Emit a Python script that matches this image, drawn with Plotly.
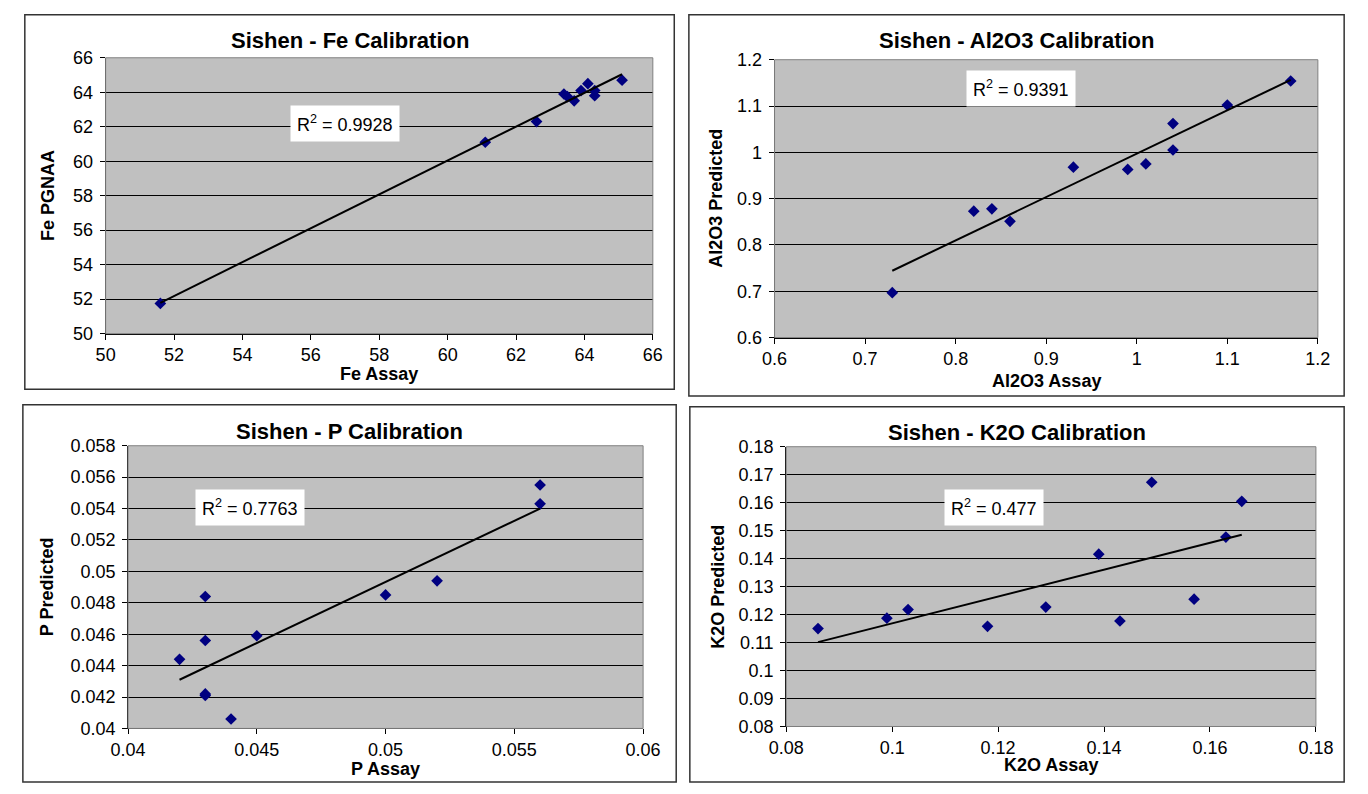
import numpy as np
import plotly.graph_objects as go

W, H = 1368, 794

# ---------------- data ----------------
fe_assay = [51.6, 61.1, 62.6, 63.4, 63.5, 63.7, 63.9, 64.1, 64.3, 64.3, 65.1]
fe_pred = [51.75, 61.1, 62.3, 63.9, 63.75, 63.5, 64.1, 64.5, 63.8, 64.1, 64.7]

al_assay = [0.73, 0.82, 0.84, 0.86, 0.93, 0.99, 1.01, 1.04, 1.04, 1.10, 1.17]
al_pred = [0.697, 0.873, 0.878, 0.851, 0.968, 0.963, 0.975, 1.062, 1.005, 1.102, 1.154]

p_assay = [0.042, 0.043, 0.043, 0.043, 0.043, 0.044, 0.045, 0.050, 0.052, 0.056, 0.056]
p_pred = [0.0444, 0.0484, 0.0456, 0.0421, 0.0422, 0.0406, 0.0459, 0.0485, 0.0494, 0.0555, 0.0543]

k_assay = [0.086, 0.099, 0.103, 0.118, 0.129, 0.139, 0.143, 0.149, 0.157, 0.163, 0.166]
k_pred = [0.115, 0.1187, 0.1218, 0.1158, 0.1227, 0.1416, 0.1177, 0.1673, 0.1255, 0.1477, 0.1605]

titles = ["Sishen - Fe Calibration", "Sishen - Al2O3 Calibration",
          "Sishen - P Calibration", "Sishen - K2O Calibration"]
x_titles = ["Fe Assay", "Al2O3 Assay", "P Assay", "K2O Assay"]
y_titles = ["Fe PGNAA", "Al2O3 Predicted", "P Predicted", "K2O Predicted"]
r2_labels = ["0.9928", "0.9391", "0.7763", "0.477"]
r2_pos = [(57.0, 62.2), (0.872, 1.137), (0.04475, 0.05409), (0.1192, 0.1582)]

x_ranges = [(50, 66, 2), (0.6, 1.2, 0.1), (0.04, 0.06, 0.005), (0.08, 0.18, 0.02)]
y_ranges = [(50, 66, 2), (0.6, 1.2, 0.1), (0.04, 0.058, 0.002), (0.08, 0.18, 0.01)]

datasets = [(fe_assay, fe_pred), (al_assay, al_pred), (p_assay, p_pred), (k_assay, k_pred)]

# ---------------- layout geometry (pixels) ----------------
plot_px = [  # x0, x1, y0(top), y1(bottom)
    (90, 652, 49, 332),
    (777, 1335, 51, 336),
    (113, 642, 447, 737),
    (789, 1333, 448, 735),
]
box_px = [
    (7, 674, 5, 389),
    (689, 1362, 5, 396),
    (5, 676, 405, 792),
    (690, 1362, 407, 792),
]
title_y = [31, 31, 432, 433]
xt_y = [373, 381, 779, 775]
yt_x = [30, 716, 30, 718]

FONT = "Arial, Liberation Sans, sans-serif"

def px_x(v):
    return v / W

def px_y(v):
    return 1 - v / H

fig = go.Figure()
layout = dict(
    width=W, height=H,
    margin=dict(l=0, r=0, t=0, b=0),
    paper_bgcolor="white",
    plot_bgcolor="#C0C0C0",
    showlegend=False,
    font=dict(family=FONT, color="black"),
)
annotations = []
shapes = []

for i in range(4):
    n = "" if i == 0 else str(i + 1)
    xa, ya = "x" + n, "y" + n
    xs, ys = datasets[i]
    fig.add_trace(go.Scatter(
        x=xs, y=ys, mode="markers", xaxis=xa, yaxis=ya,
        marker=dict(symbol="diamond", size=9, color="#000080"),
    ))
    slope, icpt = np.polyfit(xs, ys, 1)
    lx = np.array([min(xs), max(xs)])
    fig.add_trace(go.Scatter(
        x=lx, y=slope * lx + icpt, mode="lines", xaxis=xa, yaxis=ya,
        line=dict(color="black", width=2),
    ))
    x0, x1, y0, y1 = plot_px[i]
    xr, yr = x_ranges[i], y_ranges[i]
    layout["xaxis" + n] = dict(
        domain=[px_x(x0), px_x(x1)], range=[xr[0], xr[1]], dtick=xr[2], tick0=xr[0],
        anchor=ya, showgrid=False, zeroline=False, showline=True, linecolor="black",
        linewidth=1, ticks="outside", ticklen=5, tickcolor="black",
        tickfont=dict(size=18, family=FONT),
    )
    layout["yaxis" + n] = dict(
        domain=[px_y(y1), px_y(y0)], range=[yr[0], yr[1]], dtick=yr[2], tick0=yr[0],
        anchor=xa, showgrid=True, gridcolor="black", gridwidth=1.2, zeroline=False,
        showline=True, linecolor="black", linewidth=1, ticks="outside", ticklen=5,
        tickcolor="black", tickfont=dict(size=18, family=FONT), ticklabelstandoff=3,
    )
    shapes.append(dict(type="rect", xref=xa + " domain", yref=ya + " domain",
                       x0=0, x1=1, y0=0, y1=1, line=dict(color="#808080", width=1),
                       layer="above"))
    bx0, bx1, by0, by1 = box_px[i]
    shapes.append(dict(type="rect", xref="paper", yref="paper",
                       x0=px_x(bx0), x1=px_x(bx1), y0=px_y(by1), y1=px_y(by0),
                       line=dict(color="#333333", width=1.5)))
    annotations.append(dict(text="<b>" + titles[i] + "</b>", xref="paper", yref="paper",
                            x=px_x((bx0 + bx1) / 2), y=px_y(title_y[i]),
                            xanchor="center", yanchor="middle", showarrow=False,
                            font=dict(size=22, family=FONT)))
    annotations.append(dict(text="<b>" + x_titles[i] + "</b>", xref="paper", yref="paper",
                            x=px_x((x0 + x1) / 2), y=px_y(xt_y[i]),
                            xanchor="center", yanchor="middle", showarrow=False,
                            font=dict(size=18, family=FONT)))
    annotations.append(dict(text="<b>" + y_titles[i] + "</b>", xref="paper", yref="paper",
                            x=px_x(yt_x[i]), y=px_y((y0 + y1) / 2), textangle=-90,
                            xanchor="center", yanchor="middle", showarrow=False,
                            font=dict(size=18, family=FONT)))
    annotations.append(dict(text="R<sup>2</sup> = " + r2_labels[i], xref=xa, yref=ya,
                            x=r2_pos[i][0], y=r2_pos[i][1], xanchor="center",
                            yanchor="middle", showarrow=False, bgcolor="white",
                            borderpad=6, font=dict(size=18, family=FONT)))

layout["annotations"] = annotations
layout["shapes"] = shapes
fig.update_layout(**layout)
fig.write_html("out.html", config={"displayModeBar": False},
               post_script="document.body.style.margin='0';document.body.style.overflow='hidden';")
